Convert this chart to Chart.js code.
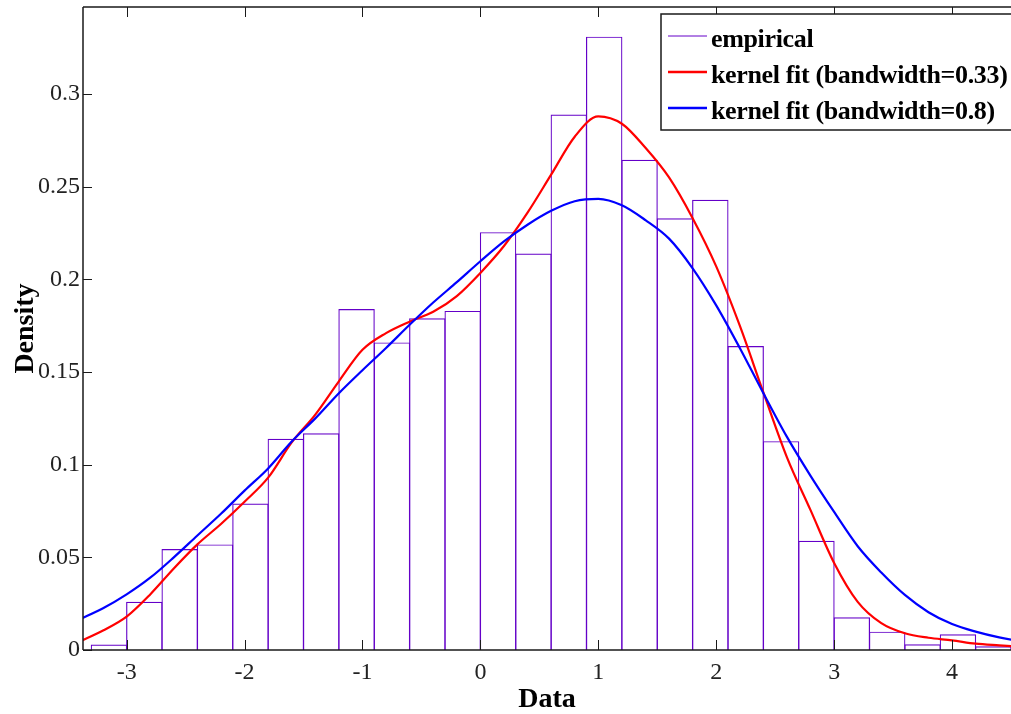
<!DOCTYPE html>
<html>
<head>
<meta charset="utf-8">
<script src="https://cdn.jsdelivr.net/npm/chart.js@4/dist/chart.umd.min.js"></script>
<style>
    html, body { margin: 0; padding: 0; background: #fff; overflow: hidden; }
    #wrap { width: 1011px; height: 714px; }
</style>
</head>
<body>
<div id="wrap"><canvas id="chartCanvas" width="1011" height="714"></canvas></div>
<script>
// histogram (bin width 0.3)
const binCenters = [-3.15, -2.85, -2.55, -2.25, -1.95, -1.65, -1.35, -1.05, -0.75, -0.45, -0.15,
    0.15, 0.45, 0.75, 1.05, 1.35, 1.65, 1.95, 2.25, 2.55, 2.85, 3.15, 3.45, 3.75, 4.05, 4.35];
const binDensity = [0.003, 0.026, 0.0545, 0.057, 0.079, 0.114, 0.117, 0.184, 0.166, 0.179, 0.183,
    0.2255, 0.214, 0.289, 0.331, 0.2645, 0.233, 0.243, 0.164, 0.1127, 0.0589, 0.0177, 0.0099, 0.0031, 0.0085, 0.002];

// kernel density curves
const curveX = [-3.4, -3.2, -3.0, -2.8, -2.6, -2.4, -2.2, -2.0, -1.8, -1.6, -1.4, -1.2, -1.0, -0.8, -0.6,
    -0.4, -0.2, 0.0, 0.2, 0.4, 0.6, 0.8, 1.0, 1.2, 1.4, 1.6, 1.8, 2.0, 2.2, 2.4, 2.6, 2.8, 3.0,
    3.2, 3.4, 3.6, 3.8, 4.0, 4.2, 4.4, 4.6];
const kernelNarrow = [0.0045, 0.0105, 0.018, 0.030, 0.044, 0.057, 0.068, 0.080, 0.093, 0.112, 0.127,
    0.145, 0.162, 0.171, 0.1772, 0.1825, 0.191, 0.2035, 0.218, 0.236, 0.2565, 0.277, 0.288, 0.284,
    0.271, 0.255, 0.233, 0.207, 0.175, 0.139, 0.104, 0.0755, 0.047, 0.026, 0.0145, 0.009, 0.0066,
    0.0052, 0.0034, 0.0025, 0.0017];
const kernelWide = [0.0165, 0.0225, 0.030, 0.039, 0.050, 0.0618, 0.0735, 0.086, 0.098, 0.1125, 0.125,
    0.1386, 0.151, 0.163, 0.1755, 0.1875, 0.1985, 0.2098, 0.2205, 0.2295, 0.237, 0.2422, 0.2435, 0.240,
    0.232, 0.222, 0.206, 0.186, 0.163, 0.1386, 0.115, 0.094, 0.0745, 0.056, 0.0418, 0.0297, 0.0204,
    0.014, 0.0099, 0.0068, 0.0045];

const xTicks = [-3, -2, -1, 0, 1, 2, 3, 4];
const yTicks = [0, 0.05, 0.1, 0.15, 0.2, 0.25, 0.3];
const seriesNames = ['empirical', 'kernel fit (bandwidth=0.33)', 'kernel fit (bandwidth=0.8)'];
const seriesColors = ['rgb(100,0,200)', 'rgb(255,0,0)', 'rgb(0,0,255)'];

const serif = '"Liberation Serif", "DejaVu Serif", serif';

// frame, inward ticks and the boxed legend (MATLAB look)
const frameAndLegend = {
    id: 'frameAndLegend',
    afterDatasetsDraw(chart) {
        const { ctx, chartArea: a, scales: { x, y } } = chart;
        ctx.save();
        ctx.strokeStyle = '#1a1a1a';
        ctx.lineWidth = 1.5;
        ctx.beginPath();
        ctx.moveTo(a.left, a.top); ctx.lineTo(a.right, a.top);
        ctx.moveTo(a.left, a.top); ctx.lineTo(a.left, a.bottom);
        ctx.moveTo(a.left, a.bottom); ctx.lineTo(a.right, a.bottom);
        ctx.stroke();

        ctx.lineWidth = 1;
        ctx.beginPath();
        x.ticks.forEach(t => {
            const px = Math.round(x.getPixelForValue(t.value)) + 0.5;
            ctx.moveTo(px, a.bottom); ctx.lineTo(px, a.bottom - 10);
            ctx.moveTo(px, a.top); ctx.lineTo(px, a.top + 10);
        });
        y.ticks.forEach(t => {
            const py = Math.round(y.getPixelForValue(t.value)) + 0.5;
            ctx.moveTo(a.left, py); ctx.lineTo(a.left + 9, py);
        });
        ctx.stroke();

        // legend box
        const bx = a.right - 350, by = a.top + 7, bw = 360, bh = 116;
        ctx.fillStyle = '#fff';
        ctx.fillRect(bx, by, bw, bh);
        ctx.lineWidth = 1.5;
        ctx.strokeRect(bx, by, bw, bh);

        const widths = [1, 2.5, 2.5];
        ctx.font = 'bold 26px ' + serif;
        ctx.letterSpacing = '-0.35px';
        ctx.textBaseline = 'alphabetic';
        ctx.textAlign = 'left';
        seriesNames.forEach((name, i) => {
            const ly = by + 22 + i * 36;
            ctx.strokeStyle = seriesColors[i];
            ctx.lineWidth = widths[i];
            ctx.beginPath();
            ctx.moveTo(bx + 7, ly); ctx.lineTo(bx + 46, ly);
            ctx.stroke();
            ctx.fillStyle = '#000';
            ctx.fillText(name, bx + 50, ly + 11);
        });
        ctx.restore();
    }
};

const ctx = document.getElementById('chartCanvas').getContext('2d');

new Chart(ctx, {
    type: 'bar',
    data: {
        datasets: [
            {
                type: 'line',
                label: seriesNames[2],
                data: curveX.map((x, i) => ({ x: x, y: kernelWide[i] })),
                borderColor: seriesColors[2],
                borderWidth: 2.2,
                pointRadius: 0,
                cubicInterpolationMode: 'monotone',
                order: 0
            },
            {
                type: 'line',
                label: seriesNames[1],
                data: curveX.map((x, i) => ({ x: x, y: kernelNarrow[i] })),
                borderColor: seriesColors[1],
                borderWidth: 2.2,
                pointRadius: 0,
                cubicInterpolationMode: 'monotone',
                order: 1
            },
            {
                type: 'bar',
                label: seriesNames[0],
                data: binCenters.map((x, i) => ({ x: x, y: binDensity[i] })),
                backgroundColor: 'rgba(0,0,0,0)',
                borderColor: seriesColors[0],
                borderWidth: 1.2,
                barPercentage: 1.03,
                categoryPercentage: 1,
                grouped: false,
                order: 2
            }
        ]
    },
    options: {
        responsive: false,
        animation: false,
        layout: { padding: { top: 7, left: 0, right: 0, bottom: 0 } },
        plugins: {
            legend: { display: false },
            tooltip: { enabled: false }
        },
        scales: {
            x: {
                type: 'linear',
                min: -3.37,
                max: 4.5,
                offset: false,
                grid: { display: false, drawTicks: false },
                border: { display: false },
                afterBuildTicks: s => { s.ticks = xTicks.map(v => ({ value: v })); },
                afterFit: s => { s.height = 64; s.paddingLeft = 0; s.paddingRight = 0; },
                ticks: {
                    color: '#222',
                    padding: 8,
                    maxRotation: 0,
                    font: { family: serif, size: 24 },
                    callback: v => String(v)
                },
                title: {
                    display: true,
                    text: 'Data',
                    color: '#000',
                    padding: { top: 0, bottom: 0 },
                    font: { family: serif, size: 28, weight: 'bold', lineHeight: 1 }
                }
            },
            y: {
                type: 'linear',
                min: 0,
                max: 0.347,
                grid: { display: false, drawTicks: false },
                border: { display: false },
                afterBuildTicks: s => { s.ticks = yTicks.map(v => ({ value: v })); },
                afterFit: s => { s.width = 83; s.paddingTop = 0; s.paddingBottom = 0; },
                ticks: {
                    color: '#222',
                    padding: 3,
                    font: { family: serif, size: 24 },
                    callback: v => String(v)
                },
                title: {
                    display: true,
                    text: 'Density',
                    color: '#000',
                    padding: { top: 9, bottom: 0 },
                    font: { family: serif, size: 28, weight: 'bold' }
                }
            }
        }
    },
    plugins: [frameAndLegend]
});
</script>
</body>
</html>
